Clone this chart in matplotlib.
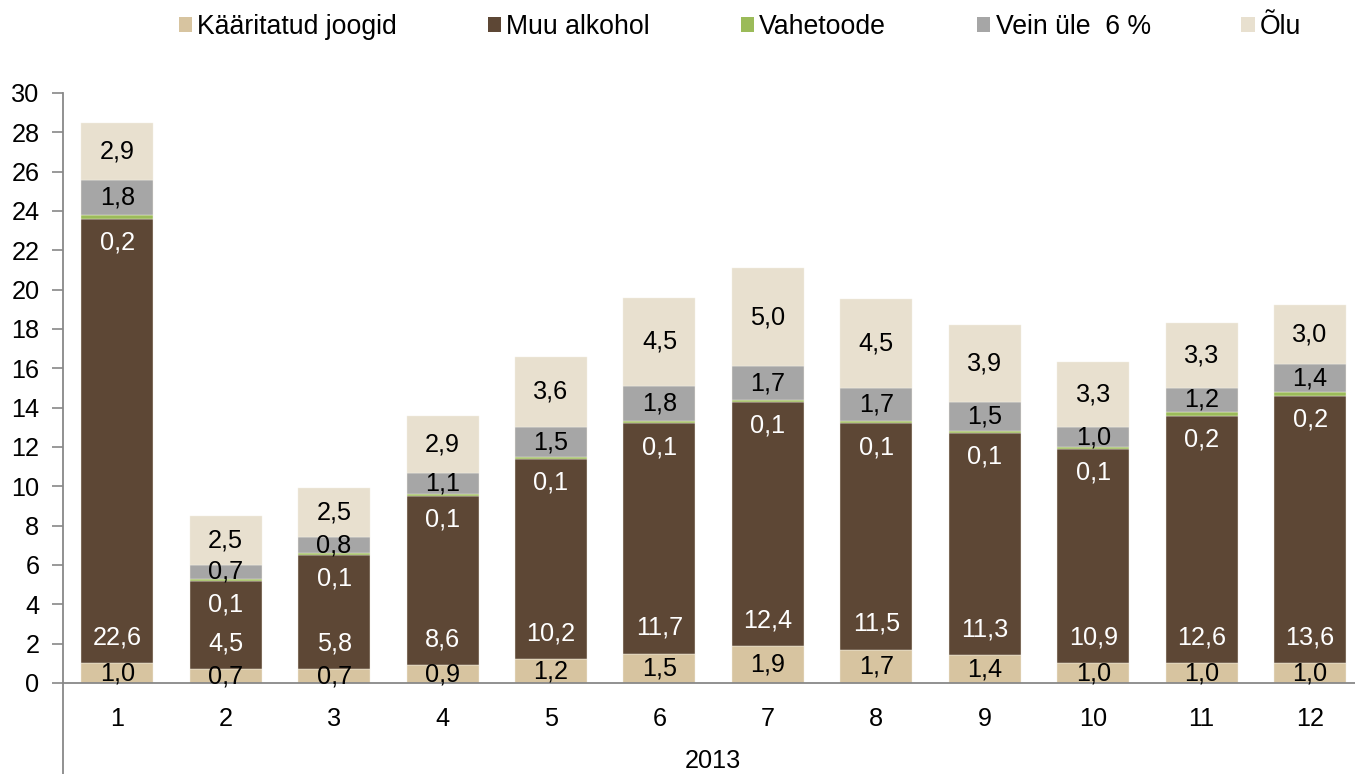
import numpy as np
import matplotlib.pyplot as plt
from matplotlib.lines import Line2D
from matplotlib.patches import Patch

plt.rcParams['font.family'] = ['Liberation Sans', 'DejaVu Sans']

months = ['1', '2', '3', '4', '5', '6', '7', '8', '9', '10', '11', '12']
year = '2013'
kaaritatud = [1.0, 0.7, 0.7, 0.9, 1.2, 1.5, 1.9, 1.7, 1.4, 1.0, 1.0, 1.0]
muu = [22.6, 4.5, 5.8, 8.6, 10.2, 11.7, 12.4, 11.5, 11.3, 10.9, 12.6, 13.6]
vahetoode = [0.2, 0.1, 0.1, 0.1, 0.1, 0.1, 0.1, 0.1, 0.1, 0.1, 0.2, 0.2]
vein = [1.8, 0.7, 0.8, 1.1, 1.5, 1.8, 1.7, 1.7, 1.5, 1.0, 1.2, 1.4]
olu = [2.9, 2.5, 2.5, 2.9, 3.6, 4.5, 5.0, 4.5, 3.9, 3.3, 3.3, 3.0]

names = ['Kääritatud joogid', 'Muu alkohol', 'Vahetoode', 'Vein üle  6 %', 'Õlu']
colors = ['#D7C4A0', '#5D4735', '#9BBB59', '#A6A6A6', '#E8E0CF']
txtcol = ['black', 'white', 'white', 'black', 'black']
series = [kaaritatud, muu, vahetoode, vein, olu]

W, H = 1355, 774
fig = plt.figure(figsize=(W / 100, H / 100), dpi=100)
ax = fig.add_axes([63 / W, 1 - 683 / H, (1355 - 63) / W, (683 - 93) / H])

x = np.arange(len(months))
fs = 18.2
bottom = np.zeros(len(months))
for k, (vals, c) in enumerate(zip(series, colors)):
    vals = np.array(vals)
    ax.bar(x, vals, 0.664, bottom=bottom, color=c, edgecolor='#F4F0E6', linewidth=0.3, zorder=2)
    for i in range(len(x)):
        if k == 1:
            ypos = bottom[i] + 1.3          # inside base
        elif k == 2:
            ypos = bottom[i] - 1.2          # below thin segment
        else:
            ypos = bottom[i] + vals[i] / 2
        ax.text(x[i], ypos, f'{vals[i]:.1f}'.replace('.', ','), ha='center', va='center',
                color=txtcol[k], fontsize=fs, zorder=3)
    bottom = bottom + vals

ax.set_xlim(-0.5, 11.414)
ax.set_ylim(0, 30)
ax.set_yticks(range(0, 31, 2))
ax.tick_params(axis='y', labelsize=fs, length=8, width=1.2, color='#888888', pad=9)
ax.set_xticks(x)
ax.set_xticklabels(months)
ax.tick_params(axis='x', labelsize=fs, length=0, pad=17)
for s in ['top', 'right']:
    ax.spines[s].set_visible(False)
for s in ['left', 'bottom']:
    ax.spines[s].set_color('#888888')
    ax.spines[s].set_linewidth(1.3)

# category axis extension below the plot
ax.add_line(Line2D([0, 0], [0, -(774 - 683) / (683 - 93)], transform=ax.transAxes,
                   color='#888888', lw=1.3, clip_on=False))
fig.text(713 / W, 1 - 761 / H, year, ha='center', va='center', fontsize=fs)

handles = [Patch(facecolor=c, edgecolor='none') for c in colors]
fig.legend(handles, names, loc='center', bbox_to_anchor=(740 / W, 1 - 27 / H), ncol=5,
           frameon=False, fontsize=19.2, handlelength=0.5, handleheight=0.5,
           handletextpad=0.2, columnspacing=3.4)

fig.savefig('out.png', dpi=100)
